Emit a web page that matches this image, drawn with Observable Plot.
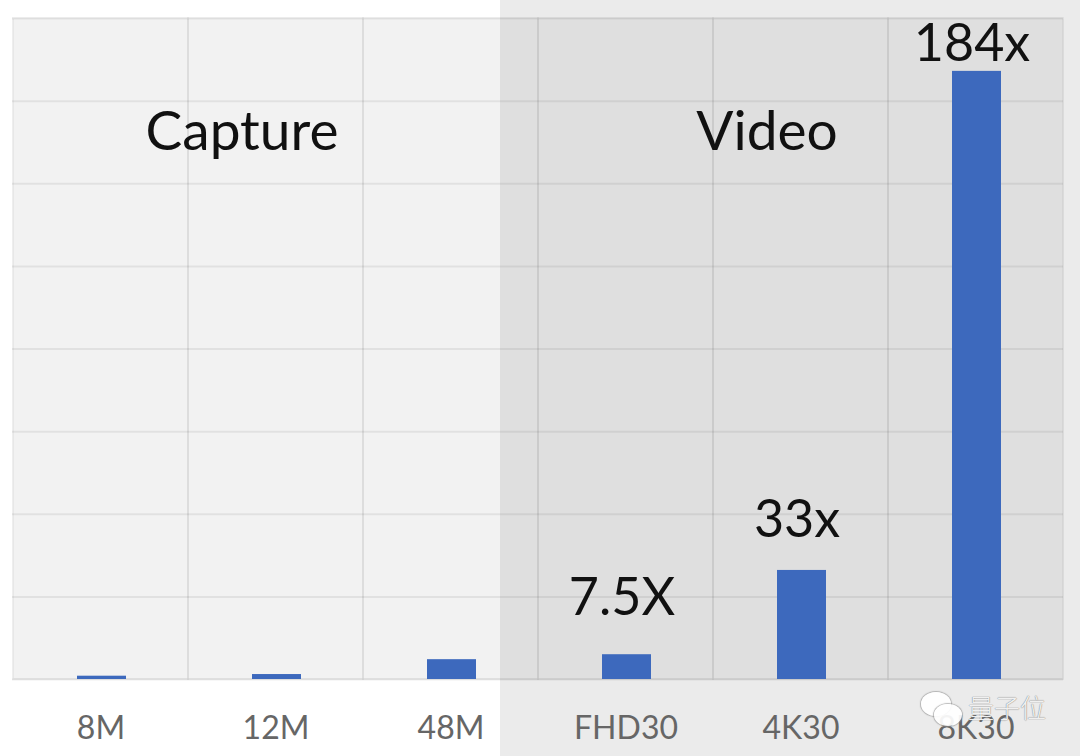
<!DOCTYPE html>
<html>
<head>
<meta charset="utf-8">
<script src="https://cdn.jsdelivr.net/npm/d3@7"></script>
<script src="https://cdn.jsdelivr.net/npm/@observablehq/plot@0.6"></script>
<style>
  html, body { margin: 0; padding: 0; background: #fff; }
  #wrap {
    position: relative; width: 1080px; height: 756px; overflow: hidden;
    background: linear-gradient(to right, #ffffff 500px, #ebebeb 500px);
    font-family: Lato, "Open Sans", sans-serif;
  }
  #wrap svg { display: block; background: transparent !important; }
  #wm {
    position: absolute; left: 968px; top: 688px;
    font-family: "Noto Sans CJK SC", sans-serif; font-size: 26px; font-weight: 300;
    color: rgba(255,255,255,0.9);
    text-shadow: 0 0 1px #888, 0 0 1px #888;
  }
  .wc { position: absolute; border-radius: 50%; background: rgba(255,255,255,0.92); box-shadow: 0 0 1px 1px rgba(140,140,140,0.6); }
</style>
</head>
<body>
<div id="wrap"></div>
<script>
// ---- data ----
const categories = ["8M", "12M", "48M", "FHD30", "4K30", "8K30"];
const values = [1, 1.5, 6, 7.5, 33, 184];
const barLabels = ["", "", "", "7.5X", "33x", "184x"];
const barLabelY = [0, 0, 0, 19.5, 43, 187];
const groupNames = ["Capture", "Video"];
const groupAnchor = ["12M", "4K30"];
const groupY = [165.5, 165.5];
const yTicks = [0, 25, 50, 75, 100, 125, 150, 175, 200];

const bars = categories.map((c, i) => ({cat: c, value: values[i]}));
const labels = categories.map((c, i) => ({cat: c, label: barLabels[i], y: barLabelY[i]})).filter(d => d.label);
const groups = groupNames.map((g, i) => ({name: g, cat: groupAnchor[i], y: groupY[i]}));

const grid = "#000";

const chart = Plot.plot({
  width: 1080,
  height: 756,
  marginLeft: 12,
  marginRight: 17,
  marginTop: 18,
  marginBottom: 77,
  style: {background: "transparent", fontFamily: "Lato, 'Open Sans', sans-serif"},
  x: {domain: categories, padding: 0, label: null},
  y: {domain: [0, 200], axis: null},
  marks: [
    Plot.frame({fill: "#000", fillOpacity: 0.05, stroke: "none"}),
    Plot.ruleY(yTicks, {stroke: grid, strokeOpacity: 0.065, strokeWidth: 2}),
    Plot.barY(categories, {x: d => d, y1: 0, y2: 200, fill: "none", stroke: grid, strokeOpacity: 0.045, strokeWidth: 2}),
    Plot.barY(bars, {x: "cat", y: "value", fill: "#3d69bd", insetLeft: 64, insetRight: 62}),
    Plot.text(labels, {x: "cat", y: "y", text: "label", lineAnchor: "bottom", dx: -4, fontSize: 52, fill: "#111"}),
    Plot.text(groups, {x: "cat", y: "y", text: "name", dx: -34, lineAnchor: "middle", fontSize: 55, fill: "#111"}),
    Plot.axisX({tickSize: 0, tickPadding: 37, fontSize: 32, color: "#666", label: null})
  ]
});

const wrap = document.getElementById("wrap");
wrap.appendChild(chart);

// watermark
const c1 = document.createElement("div"); c1.className = "wc";
Object.assign(c1.style, {left: "921px", top: "692px", width: "30px", height: "24px"});
const c2 = document.createElement("div"); c2.className = "wc";
Object.assign(c2.style, {left: "934px", top: "704px", width: "28px", height: "22px"});
wrap.appendChild(c1); wrap.appendChild(c2);
const wm = document.createElement("div"); wm.id = "wm"; wm.textContent = "量子位";
wrap.appendChild(wm);
</script>
</body>
</html>
